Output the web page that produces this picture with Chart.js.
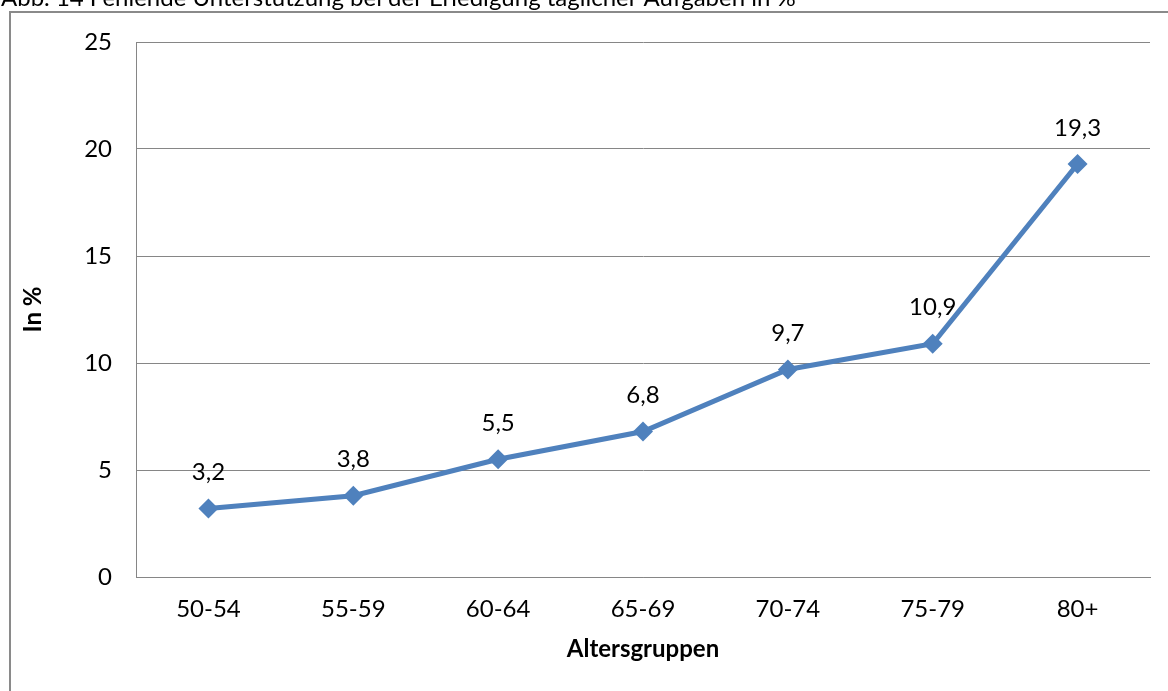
<!DOCTYPE html>
<html>
<head>
<meta charset="utf-8">
<script src="https://cdn.jsdelivr.net/npm/chart.js@4/dist/chart.umd.min.js"></script>
<style>
  html, body { margin: 0; padding: 0; background: #fff; overflow: hidden; }
  #wrap { position: relative; width: 1168px; height: 691px; }
  canvas { display: block; }
</style>
</head>
<body>
<div id="wrap"><canvas id="c" width="1168" height="691"></canvas></div>
<script>
// Figure caption and axis texts
const figureTitle = 'Abb. 14 Fehlende Unterstützung bei der Erledigung täglicher Aufgaben in %';
const xAxisTitle = 'Altersgruppen';
const yAxisTitle = 'In %';

// Age groups and share (%) without support for daily tasks
const ageGroups = ['50-54', '55-59', '60-64', '65-69', '70-74', '75-79', '80+'];
const shares = [3.2, 3.8, 5.5, 6.8, 9.7, 10.9, 19.3];

// Y axis range
const yMin = 0;
const yMax = 25;
const yStep = 5;

const FONT = 'Lato, "Open Sans", sans-serif';
const FS = 24;

const fmt = v => String(v).replace('.', ',');

// Outer frame and caption
const framePlugin = {
  id: 'frame',
  beforeDraw(chart) {
    const ctx = chart.ctx;
    ctx.save();
    ctx.fillStyle = '#fff';
    ctx.fillRect(0, 0, chart.width, chart.height);
    ctx.strokeStyle = '#8a8a8a';
    ctx.lineWidth = 2;
    ctx.strokeRect(10, 12, chart.width + 20, chart.height + 20);
    ctx.fillStyle = '#000';
    ctx.font = FS + 'px ' + FONT;
    ctx.textBaseline = 'alphabetic';
    ctx.textAlign = 'left';
    ctx.fillText(figureTitle, 1, 6);
    ctx.restore();
  }
};

// Value labels above each point
const valueLabels = {
  id: 'valueLabels',
  afterDatasetsDraw(chart) {
    const ctx = chart.ctx;
    const meta = chart.getDatasetMeta(0);
    const data = chart.data.datasets[0].data;
    ctx.save();
    ctx.fillStyle = '#000';
    ctx.font = FS + 'px ' + FONT;
    ctx.textAlign = 'center';
    ctx.textBaseline = 'middle';
    meta.data.forEach((pt, i) => {
      ctx.fillText(fmt(data[i]), pt.x, pt.y - 36);
    });
    ctx.restore();
  }
};

new Chart(document.getElementById('c'), {
  type: 'line',
  data: {
    labels: ageGroups,
    datasets: [{
      data: shares,
      borderColor: '#4f81bd',
      backgroundColor: '#4f81bd',
      borderWidth: 5,
      pointStyle: 'rectRot',
      pointRadius: 10,
      pointHoverRadius: 10,
      pointBorderWidth: 0,
      tension: 0
    }]
  },
  options: {
    responsive: false,
    animation: false,
    events: [],
    layout: { padding: { left: 10, right: 18, top: 42, bottom: 0 } },
    plugins: {
      legend: { display: false },
      tooltip: { enabled: false },
      title: { display: false }
    },
    scales: {
      x: {
        type: 'category',
        offset: true,
        grid: { display: false, drawTicks: false },
        border: { display: true, color: '#868686', width: 1 },
        ticks: { color: '#000', font: { family: FONT, size: FS }, padding: 18, maxRotation: 0 },
        title: {
          display: true, text: xAxisTitle, color: '#000',
          font: { family: FONT, size: FS, weight: 'bold' },
          padding: { top: 0, bottom: 27 }
        },
        afterFit(scale) { scale.height = 114; }
      },
      y: {
        min: yMin, max: yMax,
        ticks: { stepSize: yStep, color: '#000', font: { family: FONT, size: FS }, padding: 24 },
        grid: { color: '#868686', lineWidth: 1, drawTicks: false },
        border: { display: true, color: '#868686', width: 1 },
        title: {
          display: true, text: yAxisTitle, color: '#000',
          font: { family: FONT, size: FS, weight: 'bold' },
          padding: { top: 9, bottom: 0 }
        },
        afterFit(scale) { scale.width = 126; }
      }
    }
  },
  plugins: [framePlugin, valueLabels]
});
</script>
</body>
</html>
